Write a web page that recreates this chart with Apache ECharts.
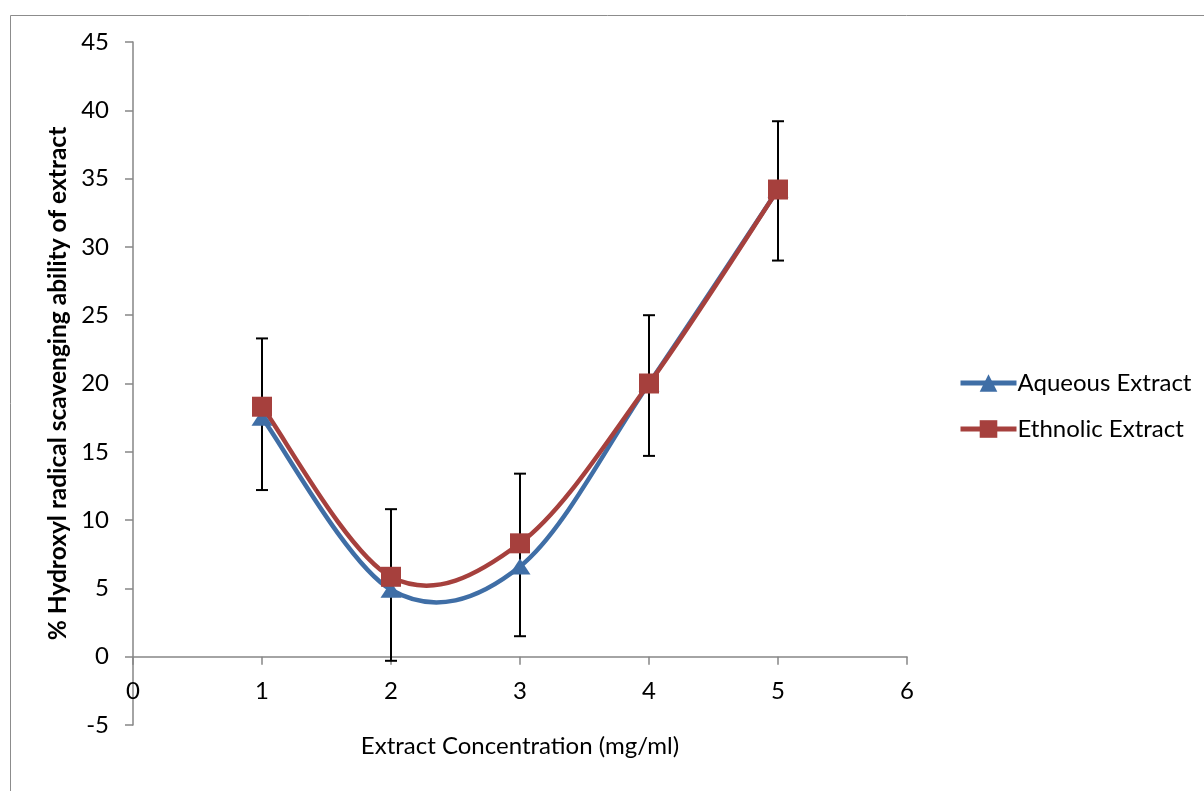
<!DOCTYPE html>
<html>
<head>
<meta charset="utf-8">
<script src="https://cdn.jsdelivr.net/npm/echarts@6/dist/echarts.min.js"></script>
<style>html,body{margin:0;padding:0;background:#fff}#c{width:1204px;height:791px}</style>
</head>
<body>
<div id="c"></div>
<script>
const concentrations = [1, 2, 3, 4, 5];
const aqueous = [17.5, 4.9, 6.6, 20.0, 34.2];
const ethnolic = [18.3, 5.85, 8.3, 20.0, 34.2];
const errLow = [12.2, -0.3, 1.5, 14.7, 29.0];
const errHigh = [23.3, 10.8, 13.4, 25.0, 39.2];
const yTicks = [-5, 0, 5, 10, 15, 20, 25, 30, 35, 40, 45];

const BLUE = '#3F6EA6', RED = '#A6403D';
const font = 'Lato, "Open Sans", sans-serif';
const chart = echarts.init(document.getElementById('c'));

// smooth curve (Excel-like Catmull-Rom) drawn through the library's coordinate mapping
function smoothRenderer(values, color) {
  return function (params, api) {
    const i = params.dataIndex;
    if (i >= concentrations.length - 1) return null;
    const P = k => {
      const kk = Math.max(0, Math.min(concentrations.length - 1, k));
      return api.coord([concentrations[kk], values[kk]]);
    };
    const p0 = P(i - 1), p1 = P(i), p2 = P(i + 1), p3 = P(i + 2);
    const t = 1 / 6;
    const c1 = [p1[0] + (p2[0] - p0[0]) * t, p1[1] + (p2[1] - p0[1]) * t];
    const c2 = [p2[0] - (p3[0] - p1[0]) * t, p2[1] - (p3[1] - p1[1]) * t];
    return {
      type: 'bezierCurve',
      shape: {x1: p1[0], y1: p1[1], x2: p2[0], y2: p2[1], cpx1: c1[0], cpy1: c1[1], cpx2: c2[0], cpy2: c2[1]},
      style: {stroke: color, lineWidth: 4.5, fill: 'none', lineCap: 'round'}
    };
  };
}

chart.setOption({
  animation: false,
  graphic: [{
    type: 'rect', left: 8, top: 13,
    shape: {width: 1300, height: 900},
    style: {fill: 'none', stroke: '#8c8c8c', lineWidth: 1}
  }, {
    type: 'text', x: 520, y: 746,
    style: {text: 'Extract Concentration (mg/ml)', font: '24px ' + font, fill: '#000', align: 'center', verticalAlign: 'middle'}
  }],
  grid: {left: 133, right: 297, top: 42, bottom: 66},
  legend: {
    orient: 'vertical', left: 953, top: 366, itemGap: 22,
    itemWidth: 56, itemHeight: 22,
    textStyle: {fontFamily: font, fontSize: 24, color: '#000', padding: [0, 0, 0, -4]},
    data: [
      {name: 'Aqueous Extract', lineStyle: {color: BLUE, width: 5, opacity: 1}},
      {name: 'Ethnolic Extract', lineStyle: {color: RED, width: 5, opacity: 1}}
    ]
  },
  xAxis: {
    type: 'value', min: 0, max: 6, interval: 1,
    offset: -68.3,
    axisLine: {onZero: false, lineStyle: {color: '#868686', width: 1.5}},
    axisTick: {show: true, inside: false, length: 8, lineStyle: {color: '#868686', width: 1.5}},
    axisLabel: {fontFamily: font, fontSize: 24, color: '#000', margin: 23},
    splitLine: {show: false}
  },
  yAxis: {
    type: 'value', min: yTicks[0], max: yTicks[yTicks.length - 1], interval: 5,
    name: '% Hydroxyl radical scavenging ability of extract',
    nameLocation: 'middle', nameGap: 61, nameRotate: 90,
    nameTextStyle: {fontFamily: font, fontSize: 24.5, fontWeight: 'bold', color: '#000'},
    axisLine: {show: true, onZero: false, lineStyle: {color: '#868686', width: 1.5}},
    axisTick: {show: true, length: 8, lineStyle: {color: '#868686', width: 1.5}},
    axisLabel: {fontFamily: font, fontSize: 24, color: '#000', margin: 24},
    splitLine: {show: false}
  },
  series: [{
    type: 'custom', name: 'err', z: 1, silent: true,
    data: concentrations.map((c, i) => [c, errLow[i], errHigh[i]]),
    renderItem: function (params, api) {
      const lo = api.coord([api.value(0), api.value(1)]);
      const hi = api.coord([api.value(0), api.value(2)]);
      const w = 6;
      const st = {stroke: '#000', lineWidth: 2};
      return {type: 'group', children: [
        {type: 'line', shape: {x1: lo[0], y1: lo[1], x2: hi[0], y2: hi[1]}, style: st},
        {type: 'line', shape: {x1: lo[0] - w, y1: lo[1], x2: lo[0] + w, y2: lo[1]}, style: st},
        {type: 'line', shape: {x1: hi[0] - w, y1: hi[1], x2: hi[0] + w, y2: hi[1]}, style: st}
      ]};
    }
  }, {
    type: 'custom', name: 'aqCurve', z: 2, silent: true,
    data: concentrations.map((c, i) => [c, aqueous[i]]),
    renderItem: smoothRenderer(aqueous, BLUE)
  }, {
    type: 'custom', name: 'etCurve', z: 3, silent: true,
    data: concentrations.map((c, i) => [c, ethnolic[i]]),
    renderItem: smoothRenderer(ethnolic, RED)
  }, {
    type: 'line', name: 'Aqueous Extract', z: 4,
    data: concentrations.map((c, i) => [c, aqueous[i]]),
    symbol: 'triangle', symbolSize: [21, 16],
    lineStyle: {color: BLUE, width: 0, opacity: 0},
    itemStyle: {color: BLUE}
  }, {
    type: 'line', name: 'Ethnolic Extract', z: 5,
    data: concentrations.map((c, i) => [c, ethnolic[i]]),
    symbol: 'rect', symbolSize: 20,
    lineStyle: {color: RED, width: 0, opacity: 0},
    itemStyle: {color: RED}
  }]
});
</script>
</body>
</html>
